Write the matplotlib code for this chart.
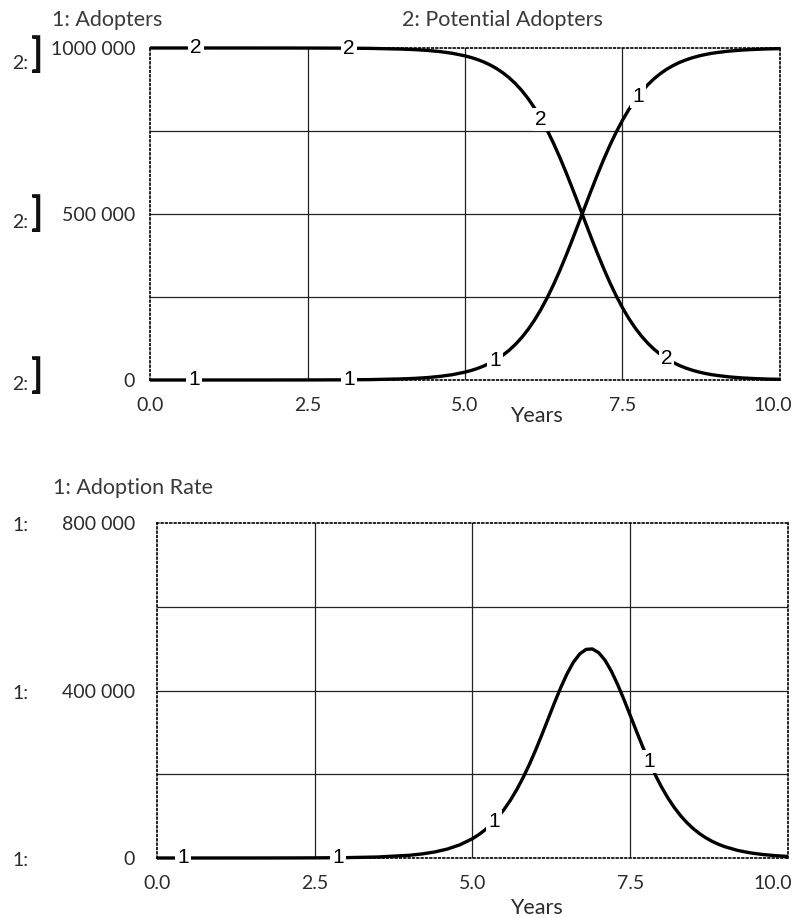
import numpy as np
import matplotlib.pyplot as plt
from matplotlib.transforms import blended_transform_factory, ScaledTranslation


# ------------------------------------------------------------
# Data
# ------------------------------------------------------------
years = [0.0, 0.5, 1.0, 1.5, 2.0, 2.5, 3.0, 3.5, 4.0,
         4.2, 4.4, 4.6, 4.8,
         5.0, 5.1, 5.2, 5.3, 5.4, 5.5, 5.6, 5.7, 5.8, 5.9,
         6.0, 6.1, 6.2, 6.3, 6.4, 6.5, 6.6, 6.7, 6.8, 6.9,
         7.0, 7.1, 7.2, 7.3, 7.4, 7.5, 7.6, 7.7, 7.8, 7.9,
         8.0, 8.1, 8.2, 8.3, 8.4, 8.5, 8.6, 8.7, 8.8, 8.9,
         9.0, 9.2, 9.4, 9.6, 9.8, 10.0]

adopters = [0, 0, 10, 20, 60, 160, 440, 1200, 3300,
            4900, 7200, 10800, 16000,
            23700, 28800, 34900, 42300, 51200, 61800, 74500, 89500, 107200, 127900,
            151900, 179500, 210800, 246000, 285000, 327400, 372900, 420700, 470000, 520000,
            569500, 617700, 663700, 706800, 746500, 782400, 814600, 842900, 867600, 888900,
            907200, 922700, 935800, 946800, 956100, 963700, 970100, 975400, 979800, 983400,
            986300, 990800, 993800, 995800, 997200, 998100]

potential_adopters = [1000000, 1000000, 999990, 999980, 999940, 999840, 999560, 998800, 996700,
                      995100, 992800, 989200, 984000,
                      976300, 971200, 965100, 957700, 948800, 938200, 925500, 910500, 892800, 872100,
                      848100, 820500, 789200, 754000, 715000, 672600, 627100, 579300, 530000, 480000,
                      430500, 382300, 336300, 293200, 253500, 217600, 185400, 157100, 132400, 111100,
                      92800, 77300, 64200, 53200, 43900, 36300, 29900, 24600, 20200, 16600,
                      13700, 9200, 6200, 4200, 2800, 1900]

adoption_rate = [0, 10, 20, 40, 120, 330, 890, 2400, 6500,
                 9700, 14400, 21300, 31500,
                 46200, 55900, 67300, 81000, 97100, 115900, 137800, 162900, 191400, 223000,
                 257600, 294500, 332800, 371000, 407500, 440400, 467700, 487400, 498200, 499200,
                 490300, 472300, 446400, 414400, 378500, 340400, 302100, 264800, 229700, 197400,
                 168400, 142600, 120100, 100700, 84000, 69900, 58000, 48000, 39600, 32700,
                 26900, 18200, 12300, 8300, 5600, 3700]

x_ticks = [0.0, 2.5, 5.0, 7.5, 10.0]
x_tick_labels = ["0.0", "2.5", "5.0", "7.5", "10.0"]

top_ticks = [0, 500000, 1000000]
top_tick_labels = ["0", "500 000", "1000 000"]
top_grid = [250000, 500000, 750000]

bottom_ticks = [0, 400000, 800000]
bottom_tick_labels = ["0", "400 000", "800 000"]
bottom_grid = [200000, 400000, 600000]

# where the series numbers sit along the curves (years)
adopters_marks = [0.70, 3.16, 5.48, 7.75]
potential_marks = [0.73, 3.16, 6.21, 8.20]
rate_marks = [0.41, 2.87, 5.34, 7.80]


# ------------------------------------------------------------
# Styling
# ------------------------------------------------------------
plt.rcParams.update({
    "font.family": ["Lato", "DejaVu Sans"],
    "font.size": 14,
    "xtick.labelsize": 14,
    "ytick.labelsize": 14,
})

TEXT = "#2b2b2b"
TITLE = "#3a3a3a"
LABEL_FONT = ["Liberation Sans", "DejaVu Sans"]


def style_panel(ax, ticks, tick_labels, grid, ymax, ypad, last_shift):
    ax.set_xlim(0, 10)
    ax.set_ylim(0, ymax)
    for s in ax.spines.values():
        s.set_linestyle((0, (1, 1.6)))
        s.set_linewidth(1.2)
        s.set_color("black")
    for g in x_ticks[1:-1]:
        ax.axvline(g, color="#222222", lw=0.9, zorder=1)
    for g in grid:
        ax.axhline(g, color="#222222", lw=0.9, zorder=1)
    ax.set_xticks(x_ticks)
    ax.set_xticklabels(x_tick_labels, color=TEXT)
    ax.set_yticks(ticks)
    ax.set_yticklabels(tick_labels, color=TEXT)
    ax.tick_params(axis="x", length=0, pad=12)
    ax.tick_params(axis="y", length=0, pad=ypad)
    # the "10.0" label sits a little left of the right edge
    lab = ax.get_xticklabels()[-1]
    lab.set_transform(lab.get_transform()
                      + ScaledTranslation(-last_shift / 100.0, 0, ax.figure.dpi_scale_trans))


def draw_series(ax, values, marks, tag):
    ax.plot(years, values, color="black", lw=2.4, zorder=3,
            clip_on=False, solid_capstyle="butt", solid_joinstyle="round")
    for t in marks:
        v = np.interp(t, years, values)
        ax.text(t, v, tag, ha="center", va="center", fontsize=15,
                family=LABEL_FONT, color="black", zorder=4, clip_on=False,
                bbox=dict(boxstyle="square,pad=0.1", fc="white", ec="none"))


def side_tags(fig, ax, values, tag, nudges, bracket):
    trans = blended_transform_factory(fig.transFigure, ax.transData)
    for v, dy in zip(values, nudges):
        off = ScaledTranslation(0, dy / 72.0, fig.dpi_scale_trans)
        if bracket:
            ax.text(0.026, v, tag,
                    transform=trans + off + ScaledTranslation(0, -6 / 72.0, fig.dpi_scale_trans),
                    ha="center", va="center", fontsize=14, color=TEXT, clip_on=False)
            ax.text(0.047, v, "]", transform=trans + off,
                    ha="center", va="center", fontsize=29, fontweight="bold",
                    color="#111111", clip_on=False)
        else:
            ax.text(0.026, v, tag, transform=trans + off,
                    ha="center", va="center", fontsize=14, color=TEXT, clip_on=False)


# ------------------------------------------------------------
# Figure
# ------------------------------------------------------------
fig = plt.figure(figsize=(7.95, 9.18), dpi=100)
ax1 = fig.add_axes([0.18868, 0.58606, 0.79245, 0.36166])
ax2 = fig.add_axes([0.19748, 0.06536, 0.79371, 0.36492])

# Top panel: stocks
style_panel(ax1, top_ticks, top_tick_labels, top_grid, 1000000, 10.8, 7)
draw_series(ax1, adopters, adopters_marks, "1")
draw_series(ax1, potential_adopters, potential_marks, "2")
ax1.text(0.613, -0.078, "Years", transform=ax1.transAxes, ha="center",
         va="top", fontsize=15.5, color=TEXT)
side_tags(fig, ax1, top_ticks, "2:", [3, 0, -5], True)

fig.text(52 / 795, 1 - 20 / 918, "1: Adopters", ha="left", va="center",
         fontsize=15.5, color=TITLE)
fig.text(502 / 795, 1 - 20 / 918, "2: Potential Adopters", ha="center",
         va="center", fontsize=15.5, color=TITLE)

# Bottom panel: flow
style_panel(ax2, bottom_ticks, bottom_tick_labels, bottom_grid, 800000, 15.8, 15)
draw_series(ax2, adoption_rate, rate_marks, "1")
ax2.text(0.601, -0.118, "Years", transform=ax2.transAxes, ha="center",
         va="top", fontsize=15.5, color=TEXT)
side_tags(fig, ax2, bottom_ticks, "1:", [-2, -2, -2], False)

fig.text(53 / 795, 1 - 488 / 918, "1: Adoption Rate", ha="left", va="center",
         fontsize=15.5, color=TITLE)

fig.savefig("out.png", dpi=100)
plt.close(fig)
